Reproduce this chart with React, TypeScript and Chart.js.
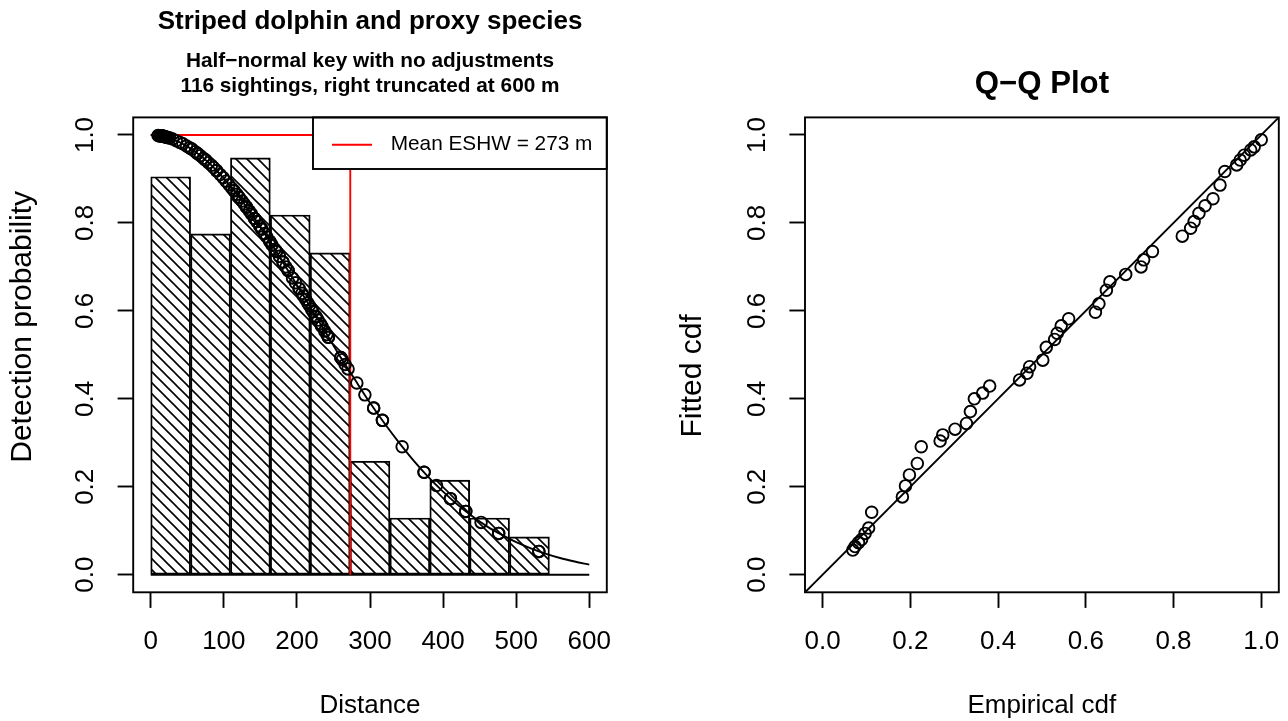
import React, { useEffect, useRef } from "react";
import { Chart, registerables } from "chart.js";

Chart.register(...registerables);

const FONT = '"Liberation Sans", Arial, Helvetica, sans-serif';

// ---------- Left panel: detection function ----------
const LEFT_TITLE = "Striped dolphin and proxy species";
const LEFT_SUBTITLE = ["Half\u2212normal key with no adjustments", "116 sightings, right truncated at 600 m"];
const LEFT_X_TITLE = "Distance";
const LEFT_Y_TITLE = "Detection probability";
const LEGEND_LABEL = "Mean ESHW = 273 m";
const ESHW = 273;

const HIST_BREAKS = [0, 54.5, 109.1, 163.6, 218.2, 272.7, 327.3, 381.8, 436.4, 490.9, 545.5, 600];
const HIST_HEIGHTS = [0.905, 0.775, 0.948, 0.818, 0.732, 0.258, 0.129, 0.215, 0.129, 0.086, 0];

const CURVE_X = [0, 20, 40, 60, 80, 100, 120, 140, 160, 180, 200, 220, 240, 260, 280, 300, 320, 340, 360, 380, 400, 420, 440, 460, 480, 500, 520, 540, 560, 580, 600];
const CURVE_Y = [1.0, 0.996, 0.983, 0.963, 0.936, 0.901, 0.861, 0.815, 0.766, 0.713, 0.659, 0.604, 0.549, 0.494, 0.442, 0.391, 0.344, 0.3, 0.259, 0.222, 0.189, 0.159, 0.133, 0.11, 0.091, 0.074, 0.06, 0.048, 0.038, 0.03, 0.023];

const SIGHT_DIST = [
  10, 12, 13, 14, 15, 15, 16, 17, 18, 19, 20, 21, 22, 24, 26, 30, 35, 40, 44, 49, 53,
  56, 56, 61, 64, 64, 68, 72, 75, 75, 79, 83, 86, 90, 90, 95, 99, 103, 107,
  111, 114, 114, 118, 121, 121, 125, 128, 131, 131, 135, 138, 142, 142, 145, 149, 152, 152, 156, 159, 163, 163,
  166, 170, 172, 172, 176, 181, 181, 185, 188, 188, 194, 198, 203, 203, 207, 209, 212, 215, 217,
  220, 222, 226, 226, 229, 232, 234, 234, 238, 241, 243, 243, 260, 260, 262, 266, 270,
  282, 293, 305, 305, 317, 317,
  344, 374, 374,
  391, 410, 410, 431, 431,
  452, 476, 476,
  531, 531,
];
const SIGHT_DETECT = [
  0.999, 0.998, 0.998, 0.998, 0.998, 0.998, 0.997, 0.997, 0.997, 0.996, 0.996, 0.995, 0.995, 0.994, 0.993, 0.991, 0.987, 0.983, 0.98, 0.975, 0.971,
  0.968, 0.968, 0.962, 0.958, 0.958, 0.953, 0.947, 0.943, 0.943, 0.937, 0.931, 0.926, 0.919, 0.919, 0.91, 0.903, 0.895, 0.887,
  0.879, 0.873, 0.873, 0.865, 0.858, 0.858, 0.85, 0.843, 0.836, 0.836, 0.827, 0.82, 0.81, 0.81, 0.803, 0.793, 0.786, 0.786, 0.776, 0.768, 0.758, 0.758,
  0.75, 0.74, 0.735, 0.735, 0.724, 0.711, 0.711, 0.7, 0.692, 0.692, 0.675, 0.664, 0.651, 0.651, 0.64, 0.634, 0.626, 0.618, 0.612,
  0.604, 0.598, 0.587, 0.587, 0.579, 0.571, 0.565, 0.565, 0.554, 0.546, 0.54, 0.54, 0.494, 0.494, 0.489, 0.478, 0.468,
  0.436, 0.409, 0.379, 0.379, 0.351, 0.351,
  0.291, 0.233, 0.233,
  0.203, 0.173, 0.173, 0.144, 0.144,
  0.119, 0.094, 0.094,
  0.053, 0.053,
];

const DIST_TICKS = [0, 100, 200, 300, 400, 500, 600];
const DIST_TICK_LABELS = ["0", "100", "200", "300", "400", "500", "600"];
const PROB_TICKS = [0, 0.2, 0.4, 0.6, 0.8, 1.0];
const PROB_TICK_LABELS = ["0.0", "0.2", "0.4", "0.6", "0.8", "1.0"];

// ---------- Right panel: Q-Q plot ----------
const RIGHT_TITLE = "Q\u2212Q Plot";
const RIGHT_X_TITLE = "Empirical cdf";
const RIGHT_Y_TITLE = "Fitted cdf";
const QQ_EMPIRICAL = [
  0.069, 0.074, 0.082, 0.089, 0.097, 0.105, 0.112, 0.182, 0.189, 0.198, 0.216, 0.225,
  0.268, 0.274, 0.302, 0.328, 0.337, 0.346, 0.365, 0.381, 0.449, 0.466, 0.472, 0.502,
  0.51, 0.529, 0.535, 0.544, 0.561, 0.622, 0.63, 0.647, 0.655, 0.691, 0.726, 0.732,
  0.752, 0.82, 0.839, 0.847, 0.858, 0.872, 0.89, 0.906, 0.917, 0.944, 0.952, 0.961,
  0.976, 0.984, 1.0,
];
const QQ_FITTED = [
  0.056, 0.064, 0.073, 0.08, 0.094, 0.106, 0.142, 0.177, 0.202, 0.227, 0.253, 0.291,
  0.304, 0.318, 0.331, 0.344, 0.371, 0.4, 0.413, 0.429, 0.443, 0.458, 0.473, 0.488,
  0.517, 0.535, 0.549, 0.566, 0.582, 0.597, 0.616, 0.647, 0.666, 0.683, 0.7, 0.716,
  0.735, 0.77, 0.788, 0.803, 0.822, 0.839, 0.855, 0.886, 0.917, 0.932, 0.943, 0.954,
  0.966, 0.973, 0.989,
];
const CDF_TICKS = [0, 0.2, 0.4, 0.6, 0.8, 1.0];
const CDF_TICK_LABELS = ["0.0", "0.2", "0.4", "0.6", "0.8", "1.0"];
const CDF_RANGE = [-0.04, 1.04];

// ---------- styling ----------
const CANVAS_W = 644;
const CANVAS_H = 721;
const LW = 1.9;
const AREA_TOP = 117.4;
const AREA_BOTTOM = 592.3;
const TICK_FONT = { family: FONT, size: 26 };
const LAB_FONT = { family: FONT, size: 26 };
const YLAB_SIZE = 30;

function makeHatch(): CanvasPattern | string {
  const s = 11;
  const c = document.createElement("canvas");
  c.width = s;
  c.height = s;
  const g = c.getContext("2d");
  if (!g) return "#fff";
  g.fillStyle = "#fff";
  g.fillRect(0, 0, s, s);
  g.strokeStyle = "#000";
  g.lineWidth = 1.6;
  g.beginPath();
  g.moveTo(-2, -2);
  g.lineTo(s + 2, s + 2);
  g.moveTo(-2, s - 2);
  g.lineTo(2, s + 2);
  g.moveTo(s - 2, -2);
  g.lineTo(s + 2, 2);
  g.stroke();
  const p = g.createPattern(c, "repeat");
  return p || "#fff";
}

const boxPlugin = {
  id: "rBox",
  afterDraw(chart: any) {
    const { ctx, chartArea: a } = chart;
    ctx.save();
    ctx.lineWidth = LW;
    ctx.strokeStyle = "#000";
    ctx.strokeRect(a.left, a.top, a.right - a.left, a.bottom - a.top);
    ctx.restore();
  },
};

// vertical axis title (rotated, reading upward)
function yTitlePlugin(text: string, midX: number, dy: number) {
  return {
    id: "yTitle",
    afterDraw(chart: any) {
      const { ctx, chartArea: a } = chart;
      ctx.save();
      ctx.translate(midX, (a.top + a.bottom) / 2 + dy);
      ctx.rotate(-Math.PI / 2);
      ctx.fillStyle = "#000";
      ctx.font = `${YLAB_SIZE}px ${FONT}`;
      ctx.textAlign = "center";
      ctx.textBaseline = "middle";
      ctx.fillText(text, 0, 0);
      ctx.restore();
    },
  };
}

const legendPlugin = {
  id: "eshwLegend",
  afterDatasetsDraw(chart: any) {
    const { ctx, chartArea: a } = chart;
    const w = 293.8;
    const h = 51.6;
    const x0 = a.right - w;
    const y0 = a.top;
    ctx.save();
    ctx.fillStyle = "#fff";
    ctx.fillRect(x0, y0, w, h);
    ctx.lineWidth = LW;
    ctx.strokeStyle = "#000";
    ctx.strokeRect(x0, y0, w, h);
    const ly = y0 + 27.3;
    ctx.strokeStyle = "#ff0000";
    ctx.beginPath();
    ctx.moveTo(x0 + 19, ly);
    ctx.lineTo(x0 + 59, ly);
    ctx.stroke();
    ctx.fillStyle = "#000";
    ctx.font = `20.8px ${FONT}`;
    ctx.textBaseline = "middle";
    ctx.textAlign = "left";
    ctx.fillText(LEGEND_LABEL, x0 + 77.7, ly);
    ctx.restore();
  },
};

function axisGrid() {
  return {
    display: true,
    offset: false,
    drawOnChartArea: false,
    drawTicks: true,
    tickLength: 15.6,
    tickWidth: LW,
    tickColor: "#000",
  };
}

function xScale(min: number, max: number, ticks: number[], labels: string[], title: string) {
  return {
    type: "linear",
    min,
    max,
    offset: false,
    afterBuildTicks: (s: any) => {
      s.ticks = ticks.map((v) => ({ value: v }));
    },
    afterFit: (s: any) => {
      s.height = CANVAS_H - AREA_BOTTOM;
      s.paddingLeft = 0;
      s.paddingRight = 0;
    },
    grid: axisGrid(),
    border: { display: false },
    ticks: {
      autoSkip: false,
      minRotation: 0,
      maxRotation: 0,
      padding: 18.5,
      color: "#000",
      font: TICK_FONT,
      callback: (_v: any, i: number) => labels[i],
    },
    title: { display: true, text: title, color: "#000", font: LAB_FONT, padding: { top: 0, bottom: 0 } },
  };
}

function yScale(min: number, max: number, ticks: number[], labels: string[], width: number) {
  return {
    type: "linear",
    min,
    max,
    offset: false,
    afterBuildTicks: (s: any) => {
      s.ticks = ticks.map((v) => ({ value: v }));
    },
    afterFit: (s: any) => {
      s.width = width;
      s.paddingTop = 0;
      s.paddingBottom = 0;
    },
    grid: axisGrid(),
    border: { display: false },
    ticks: {
      autoSkip: false,
      minRotation: 90,
      maxRotation: 90,
      crossAlign: "center",
      padding: 13.3,
      color: "#000",
      font: TICK_FONT,
      callback: (_v: any, i: number) => labels[i],
    },
    title: { display: false },
  };
}

function circlePoints() {
  return {
    pointStyle: "circle",
    pointRadius: 5.8,
    pointHoverRadius: 5.8,
    pointBorderWidth: LW,
    pointBorderColor: "#000",
    pointBackgroundColor: "rgba(0,0,0,0)",
  };
}

export default function App() {
  const leftRef = useRef<HTMLCanvasElement | null>(null);
  const rightRef = useRef<HTMLCanvasElement | null>(null);

  useEffect(() => {
    if (!leftRef.current || !rightRef.current) return;
    const hatch = makeHatch();

    const barData = HIST_HEIGHTS.map((h, i) => ({ x: (HIST_BREAKS[i] + HIST_BREAKS[i + 1]) / 2, y: h }));
    const leftChart = new Chart(leftRef.current, {
      type: "scatter",
      data: {
        datasets: [
          {
            type: "scatter",
            label: "Sightings",
            data: SIGHT_DIST.map((x, i) => ({ x, y: SIGHT_DETECT[i] })),
            ...circlePoints(),
            order: 0,
          },
          {
            type: "line",
            label: "Half-normal fit",
            data: CURVE_X.map((x, i) => ({ x, y: CURVE_Y[i] })),
            borderColor: "#000",
            borderWidth: LW,
            pointRadius: 0,
            showLine: true,
            fill: false,
            cubicInterpolationMode: "monotone",
            order: 1,
          },
          {
            type: "line",
            label: LEGEND_LABEL,
            data: [
              { x: CURVE_X[0], y: 1 },
              { x: ESHW, y: 1 },
              { x: ESHW, y: 0 },
            ],
            borderColor: "#ff0000",
            borderWidth: LW,
            pointRadius: 0,
            showLine: true,
            fill: false,
            tension: 0,
            order: 2,
          },
          {
            type: "line",
            label: "baseline",
            data: [
              { x: HIST_BREAKS[0], y: 0 },
              { x: HIST_BREAKS[HIST_BREAKS.length - 1], y: 0 },
            ],
            borderColor: "#000",
            borderWidth: LW,
            pointRadius: 0,
            showLine: true,
            fill: false,
            order: 3,
          },
          {
            type: "bar",
            label: "Histogram",
            data: barData,
            backgroundColor: hatch,
            borderColor: "#000",
            borderWidth: LW,
            borderSkipped: false,
            barPercentage: 1,
            categoryPercentage: 1,
            order: 4,
          },
        ],
      } as any,
      options: {
        responsive: false,
        maintainAspectRatio: false,
        animation: false,
        devicePixelRatio: 1,
        events: [],
        layout: { padding: { left: 0, top: 0, right: CANVAS_W - 606.8, bottom: 0 } },
        plugins: {
          legend: { display: false },
          tooltip: { enabled: false },
          title: {
            display: true,
            text: LEFT_TITLE,
            color: "#000",
            font: { family: FONT, size: 26, weight: "bold" },
            padding: { top: 6, bottom: 0 },
            fullSize: false,
          },
          subtitle: {
            display: true,
            text: LEFT_SUBTITLE,
            color: "#000",
            font: { family: FONT, size: 20.8, weight: "bold" },
            padding: { top: 11.8, bottom: AREA_TOP - 37.2 - 11.8 - 2 * 20.8 * 1.2 },
            fullSize: false,
          },
        },
        scales: {
          x: xScale(-24, 624, DIST_TICKS, DIST_TICK_LABELS, LEFT_X_TITLE),
          y: yScale(-0.04, 1.04, PROB_TICKS, PROB_TICK_LABELS, 133.2),
        },
      } as any,
      plugins: [legendPlugin, boxPlugin, yTitlePlugin(LEFT_Y_TITLE, 22.6, -28)],
    });

    const rightChart = new Chart(rightRef.current, {
      type: "scatter",
      data: {
        datasets: [
          {
            type: "scatter",
            label: "Q-Q",
            data: QQ_EMPIRICAL.map((x, i) => ({ x, y: QQ_FITTED[i] })),
            ...circlePoints(),
            order: 0,
          },
          {
            type: "line",
            label: "y = x",
            data: CDF_RANGE.map((v) => ({ x: v, y: v })),
            borderColor: "#000",
            borderWidth: LW,
            pointRadius: 0,
            showLine: true,
            fill: false,
            order: 1,
          },
        ],
      } as any,
      options: {
        responsive: false,
        maintainAspectRatio: false,
        animation: false,
        devicePixelRatio: 1,
        events: [],
        layout: { padding: { left: 0, top: 0, right: CANVAS_W - 634.8, bottom: 0 } },
        plugins: {
          legend: { display: false },
          tooltip: { enabled: false },
          title: {
            display: true,
            text: RIGHT_TITLE,
            color: "#000",
            font: { family: FONT, size: 31.2, weight: "bold" },
            padding: { top: 66, bottom: AREA_TOP - 66 - 31.2 * 1.2 },
            fullSize: false,
          },
        },
        scales: {
          x: xScale(CDF_RANGE[0], CDF_RANGE[1], CDF_TICKS, CDF_TICK_LABELS, RIGHT_X_TITLE),
          y: yScale(CDF_RANGE[0], CDF_RANGE[1], CDF_TICKS, CDF_TICK_LABELS, 161),
        },
      } as any,
      plugins: [boxPlugin, yTitlePlugin(RIGHT_Y_TITLE, 49, 21)],
    });

    return () => {
      leftChart.destroy();
      rightChart.destroy();
    };
  }, []);

  return (
    <div style={{ position: "absolute", left: 0, top: 0, width: 1288, height: 721, background: "#fff" }}>
      <canvas
        ref={leftRef}
        width={CANVAS_W}
        height={CANVAS_H}
        style={{ position: "absolute", left: 0, top: 0, width: CANVAS_W, height: CANVAS_H }}
      />
      <canvas
        ref={rightRef}
        width={CANVAS_W}
        height={CANVAS_H}
        style={{ position: "absolute", left: CANVAS_W, top: 0, width: CANVAS_W, height: CANVAS_H }}
      />
    </div>
  );
}
